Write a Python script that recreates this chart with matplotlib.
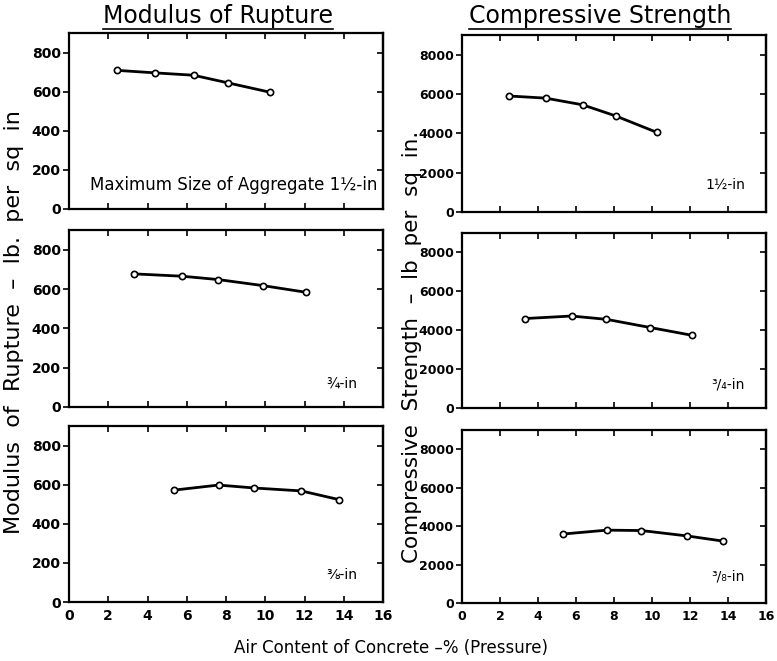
import matplotlib
matplotlib.use("Agg")
import matplotlib.pyplot as plt
from matplotlib.lines import Line2D

# ---- data ----
x_15 = [2.45, 4.4, 6.35, 8.1, 10.25]
mr_15 = [709, 696, 684, 645, 597]
cs_15 = [5900, 5790, 5450, 4880, 4050]

x_34 = [3.3, 5.77, 7.6, 9.9, 12.1]
mr_34 = [677, 665, 648, 617, 583]
cs_34 = [4600, 4730, 4560, 4140, 3740]

x_38 = [5.34, 7.62, 9.44, 11.84, 13.74]
mr_38 = [572, 598, 583, 568, 524]
cs_38 = [3590, 3790, 3770, 3490, 3220]

size_labels_left = ["Maximum Size of Aggregate 1½-in", "¾-in", "⅜-in"]
size_labels_right = ["1½-in", "³/₄-in", "³/₈-in"]

mr_ticks = [0, 200, 400, 600, 800]
cs_ticks = [0, 2000, 4000, 6000, 8000]
x_ticks = [0, 2, 4, 6, 8, 10, 12, 14, 16]

xs = [x_15, x_34, x_38]
mrs = [mr_15, mr_34, mr_38]
css = [cs_15, cs_34, cs_38]

fig = plt.figure(figsize=(7.77, 6.61), dpi=100)
W, H = 777, 661

def px_axes(x0, y0, x1, y1):
    return fig.add_axes([x0 / W, 1 - y1 / H, (x1 - x0) / W, (y1 - y0) / H])

left_boxes = [(69, 33, 383, 209), (69, 230, 383, 407), (69, 426, 383, 602)]
right_boxes = [(462, 35, 766, 212), (462, 233, 766, 408), (462, 430, 766, 603)]

def style(ax, yticks, ymax, bottom, fs, xfs):
    ax.set_xlim(0, 16)
    ax.set_ylim(0, ymax)
    ax.set_xticks(x_ticks)
    ax.set_yticks(yticks)
    for s in ax.spines.values():
        s.set_linewidth(1.6)
    ax.tick_params(axis="y", direction="out", length=4, width=1.2, labelsize=fs,
                   right=False, pad=2)
    ax.tick_params(axis="x", direction="in", length=4, width=1.2, top=True,
                   labelsize=xfs, labelbottom=bottom, pad=5)
    sec = ax.secondary_yaxis("right")
    sec.set_yticks(yticks)
    sec.tick_params(direction="in", length=4, width=1.2, labelright=False)
    sec.spines["right"].set_linewidth(1.6)
    for lab in ax.get_yticklabels() + ax.get_xticklabels():
        lab.set_fontweight("bold")

for i in range(3):
    axl = px_axes(*left_boxes[i])
    axl.plot(xs[i], mrs[i], color="black", lw=2.0, marker="o", ms=4.5,
             mfc="white", mec="black", mew=1.2)
    style(axl, mr_ticks, 900, i == 2, 10, 10)
    yl = [123, 120, 136][i]
    axl.text(15.7 if i == 0 else 14.7, yl, size_labels_left[i], ha="right",
             va="center", fontsize=12 if i == 0 else 10)

    axr = px_axes(*right_boxes[i])
    axr.plot(xs[i], css[i], color="black", lw=2.0, marker="o", ms=4.5,
             mfc="white", mec="black", mew=1.2)
    style(axr, cs_ticks, 9000, i == 2, 9, 9)
    yr = [1390, 1190, 1358][i]
    axr.text(14.9, yr, size_labels_right[i], ha="right", va="center", fontsize=10)

# titles with underline
def title(xc, yc, s):
    t = fig.text(xc / W, 1 - yc / H, s, ha="center", va="center", fontsize=17)
    fig.canvas.draw()
    bb = t.get_window_extent()
    fig.add_artist(Line2D([bb.x0 / W, bb.x1 / W], [(bb.y0 - 1) / H, (bb.y0 - 1) / H],
                          color="black", lw=1.2))

title(218, 16, "Modulus of Rupture")
title(600, 16, "Compressive Strength")

fig.text(14 / W, 1 - 322 / H, "Modulus  of  Rupture  \u2013  lb.  per  sq  in",
         rotation=90, ha="center", va="center", fontsize=16)
fig.text(412 / W, 1 - 347 / H, "Compressive  Strength  \u2013  lb  per  sq  in.",
         rotation=90, ha="center", va="center", fontsize=15.5)
fig.text(391 / W, 1 - 648 / H, "Air Content of Concrete \u2013% (Pressure)",
         ha="center", va="center", fontsize=12)

fig.savefig("out.png", dpi=100)
